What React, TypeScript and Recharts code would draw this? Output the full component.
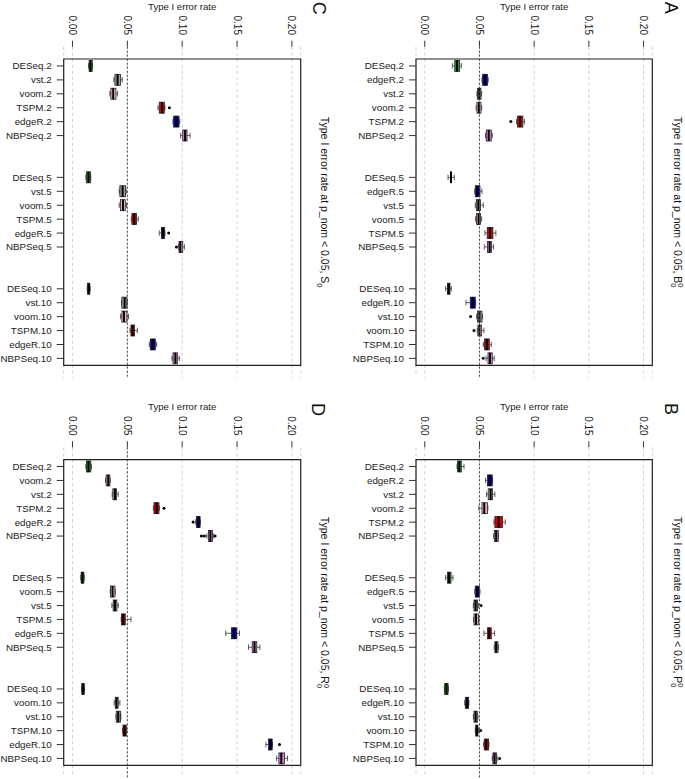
import React from 'react'
import {
  ComposedChart,
  Bar,
  XAxis,
  YAxis,
  CartesianGrid,
  ReferenceLine,
  ReferenceArea,
} from 'recharts'

const FONT = '"Liberation Sans", Arial, Helvetica, sans-serif'
const DOMAIN: [number, number] = [-0.008, 0.208]
const X_TICKS = [0, 0.05, 0.1, 0.15, 0.2]

// box stats per category: [min, q1, median, q3, max]
const A_LABELS = [
  'DESeq.2', 'edgeR.2', 'vst.2', 'voom.2', 'TSPM.2', 'NBPSeq.2',
  'DESeq.5', 'edgeR.5', 'vst.5', 'voom.5', 'TSPM.5', 'NBPSeq.5',
  'DESeq.10', 'edgeR.10', 'vst.10', 'voom.10', 'TSPM.10', 'NBPSeq.10',
]
const A_STATS = [
  [0.0252, 0.0274, 0.0295, 0.0319, 0.0334],
  [0.0523, 0.0529, 0.055, 0.0574, 0.058],
  [0.0477, 0.0483, 0.0498, 0.0514, 0.052],
  [0.047, 0.0477, 0.0495, 0.0514, 0.052],
  [0.0839, 0.0848, 0.0872, 0.0897, 0.0912],
  [0.0556, 0.0562, 0.0585, 0.0608, 0.0617],
  [0.0213, 0.0236, 0.024, 0.0245, 0.027],
  [0.0457, 0.0462, 0.048, 0.0505, 0.0523],
  [0.0462, 0.0471, 0.049, 0.051, 0.0535],
  [0.0465, 0.0474, 0.0492, 0.051, 0.052],
  [0.055, 0.0571, 0.0596, 0.0623, 0.065],
  [0.0544, 0.0574, 0.0593, 0.0611, 0.0629],
  [0.0191, 0.0207, 0.0219, 0.0231, 0.0243],
  [0.0377, 0.0416, 0.0438, 0.0462, 0.0465],
  [0.0474, 0.0483, 0.05, 0.0523, 0.0529],
  [0.048, 0.0486, 0.05, 0.052, 0.0541],
  [0.0535, 0.0547, 0.0568, 0.059, 0.0608],
  [0.056, 0.0578, 0.0596, 0.0617, 0.0635],
]
const A_OUT = [[], [], [], [], [0.0787], [], [], [], [], [], [], [], [], [], [0.0419], [0.045], [], [0.0535]]

const B_LABELS = A_LABELS
const B_STATS = [
  [0.0295, 0.0301, 0.0316, 0.0334, 0.0359],
  [0.0556, 0.0574, 0.0596, 0.0617, 0.062],
  [0.0565, 0.058, 0.0602, 0.062, 0.0641],
  [0.0495, 0.0523, 0.0544, 0.0574, 0.0577],
  [0.0632, 0.0641, 0.0675, 0.0711, 0.0736],
  [0.063, 0.0635, 0.0653, 0.0672, 0.0675],
  [0.0191, 0.0207, 0.0222, 0.024, 0.0258],
  [0.0457, 0.0462, 0.048, 0.0498, 0.0505],
  [0.0444, 0.045, 0.0465, 0.0483, 0.049],
  [0.0447, 0.045, 0.0468, 0.049, 0.0495],
  [0.0541, 0.0574, 0.059, 0.0608, 0.0638],
  [0.0635, 0.0641, 0.0653, 0.0669, 0.0675],
  [0.0179, 0.0182, 0.0198, 0.0213, 0.0216],
  [0.0365, 0.0371, 0.0386, 0.0401, 0.0404],
  [0.0444, 0.045, 0.0465, 0.048, 0.0486],
  [0.0462, 0.0465, 0.0477, 0.0486, 0.0492],
  [0.0538, 0.0544, 0.0562, 0.0584, 0.0587],
  [0.0617, 0.0623, 0.0638, 0.0657, 0.0662],
]
const B_OUT = [[], [], [], [], [], [], [], [], [0.0514], [], [], [], [], [], [], [0.0511], [], [0.0684]]

const C_LABELS = [
  'DESeq.2', 'vst.2', 'voom.2', 'TSPM.2', 'edgeR.2', 'NBPSeq.2',
  'DESeq.5', 'vst.5', 'voom.5', 'TSPM.5', 'edgeR.5', 'NBPSeq.5',
  'DESeq.10', 'vst.10', 'voom.10', 'TSPM.10', 'edgeR.10', 'NBPSeq.10',
]
const C_STATS = [
  [0.0146, 0.0152, 0.0164, 0.018, 0.0183],
  [0.0377, 0.0387, 0.0411, 0.0438, 0.0454],
  [0.0341, 0.035, 0.0371, 0.0396, 0.0411],
  [0.0779, 0.0791, 0.0816, 0.0837, 0.0843],
  [0.0916, 0.0922, 0.0947, 0.0971, 0.0977],
  [0.0986, 0.1005, 0.1026, 0.1044, 0.1072],
  [0.0122, 0.0128, 0.0146, 0.0164, 0.0167],
  [0.0426, 0.0432, 0.0457, 0.0484, 0.049],
  [0.0426, 0.0438, 0.046, 0.0481, 0.0493],
  [0.0536, 0.0542, 0.0563, 0.0584, 0.06],
  [0.0791, 0.081, 0.0825, 0.084, 0.0843],
  [0.0965, 0.0971, 0.0983, 0.1005, 0.102],
  [0.0134, 0.0137, 0.0149, 0.0158, 0.0161],
  [0.0447, 0.045, 0.0475, 0.0496, 0.0499],
  [0.0438, 0.045, 0.0469, 0.0496, 0.0511],
  [0.0524, 0.0533, 0.0548, 0.0566, 0.0591],
  [0.07, 0.0709, 0.0731, 0.0755, 0.0767],
  [0.0907, 0.0916, 0.0938, 0.0956, 0.0974],
]
const C_OUT = [[], [], [], [0.0883], [], [], [], [], [], [], [0.0877], [0.0947], [], [], [], [], [], []]

const D_LABELS = [
  'DESeq.2', 'voom.2', 'vst.2', 'TSPM.2', 'edgeR.2', 'NBPSeq.2',
  'DESeq.5', 'voom.5', 'vst.5', 'TSPM.5', 'edgeR.5', 'NBPSeq.5',
  'DESeq.10', 'voom.10', 'vst.10', 'TSPM.10', 'edgeR.10', 'NBPSeq.10',
]
const D_STATS = [
  [0.0122, 0.0128, 0.0146, 0.0167, 0.0173],
  [0.0301, 0.0307, 0.0326, 0.0341, 0.0344],
  [0.0362, 0.0368, 0.0387, 0.0402, 0.0417],
  [0.0737, 0.0743, 0.0767, 0.0788, 0.0792],
  [0.112, 0.1129, 0.1148, 0.1163, 0.1166],
  [0.1224, 0.1239, 0.1257, 0.1275, 0.1287],
  [0.0076, 0.0079, 0.0091, 0.0104, 0.0107],
  [0.0344, 0.0347, 0.0365, 0.0387, 0.039],
  [0.0359, 0.0371, 0.0387, 0.0405, 0.0417],
  [0.0444, 0.0447, 0.0463, 0.0481, 0.0533],
  [0.1397, 0.1449, 0.1473, 0.1498, 0.1522],
  [0.1604, 0.1638, 0.1659, 0.168, 0.1708],
  [0.0082, 0.0085, 0.0097, 0.0107, 0.011],
  [0.038, 0.039, 0.0402, 0.0417, 0.0432],
  [0.0396, 0.0399, 0.0417, 0.0438, 0.0441],
  [0.0456, 0.046, 0.0475, 0.049, 0.0493],
  [0.1763, 0.1787, 0.1805, 0.182, 0.1823],
  [0.186, 0.1881, 0.1903, 0.1933, 0.196],
]
const D_OUT = [[], [], [], [0.0834], [0.1099], [0.1175, 0.1202, 0.13], [], [], [], [], [], [], [], [], [], [], [0.1887], []]

const METHOD_COLORS: Record<string, string> = {
  DESeq: '#1fa01f',
  edgeR: '#0000b4',
  vst: '#a3a3a3',
  voom: '#f4b6c2',
  TSPM: '#d40000',
  NBPSeq: '#d683d6',
}

// two empty slots between the groups of six, like boxplot(at = ...)
function buildRows(labels: string[], stats: number[][], outliers: number[][]) {
  const rows: any[] = []
  labels.forEach((label, i) => {
    if (i > 0 && i % 6 === 0) {
      rows.push({ key: `gap${i}a`, range: null })
      rows.push({ key: `gap${i}b`, range: null })
    }
    const [min, q1, med, q3, max] = stats[i]
    rows.push({
      key: label,
      range: [min, max],
      q1,
      med,
      q3,
      out: outliers[i] || [],
      color: METHOD_COLORS[label.split('.')[0]],
    })
  })
  return rows
}

function BoxShape(props: any) {
  const { x, y, width, height, payload } = props
  if (!payload || !payload.range) return <g />
  const [lo, hi] = payload.range
  const px = (v: number) => x + (width * (v - lo)) / (hi - lo)
  const cy = y + height / 2
  const half = height / 4
  const xq1 = px(payload.q1)
  const xq3 = px(payload.q3)
  const xm = px(payload.med)
  return (
    <g>
      <line x1={px(lo)} x2={xq1} y1={cy} y2={cy} stroke="#333" strokeWidth={0.8} />
      <line x1={xq3} x2={px(hi)} y1={cy} y2={cy} stroke="#333" strokeWidth={0.8} />
      <line x1={px(lo)} x2={px(lo)} y1={cy - half} y2={cy + half} stroke="#333" strokeWidth={0.8} />
      <line x1={px(hi)} x2={px(hi)} y1={cy - half} y2={cy + half} stroke="#333" strokeWidth={0.8} />
      <rect x={xq1} y={y} width={xq3 - xq1} height={height} fill={payload.color} stroke="#222" strokeWidth={0.8} />
      <line x1={xm} x2={xm} y1={y} y2={y + height} stroke="#000" strokeWidth={2} />
      {payload.out.map((o: number, i: number) => (
        <circle key={i} cx={px(o)} cy={cy} r={1.5} fill="#000" />
      ))}
    </g>
  )
}

function ValueTick({ x, y, payload }: any) {
  return (
    <text
      x={x}
      y={y}
      transform={`rotate(90, ${x}, ${y})`}
      textAnchor="end"
      dy="0.35em"
      fontSize={10}
      fill="#222"
      fontFamily={FONT}
    >
      {Number(payload.value).toFixed(2)}
    </text>
  )
}

function CategoryTick({ x, y, payload }: any) {
  const label = String(payload.value)
  if (label.startsWith('gap')) return <g />
  return (
    <g>
      <line x1={x + 5} x2={x + 12} y1={y} y2={y} stroke="#333" />
      <text x={x} y={y} dy="0.35em" textAnchor="end" fontSize={9.8} fill="#222" fontFamily={FONT}>
        {label}
      </text>
    </g>
  )
}

const PANELS = [
  {
    letter: 'A', sym: 'B', sup: true, labels: A_LABELS, stats: A_STATS, out: A_OUT,
    left: 342, top: 0, width: 343, height: 390, yw: 74, xh: 46.7,
    margin: { top: 0, right: 32.7, bottom: 12.3, left: 0 },
    letterPos: [665, 1.7], titlePos: [674.3, 116.7],
  },
  {
    letter: 'B', sym: 'P', sup: true, labels: B_LABELS, stats: B_STATS, out: B_OUT,
    left: 342, top: 400, width: 343, height: 379, yw: 74, xh: 47.3,
    margin: { top: 0, right: 32.7, bottom: 1.3, left: 0 },
    letterPos: [665, 403], titlePos: [674.3, 516.7],
  },
  {
    letter: 'C', sym: 'S', sup: false, labels: C_LABELS, stats: C_STATS, out: C_OUT,
    left: 0, top: 0, width: 342, height: 390, yw: 63.7, xh: 46.7,
    margin: { top: 0, right: 41.3, bottom: 12.3, left: 0 },
    letterPos: [313, 1.7], titlePos: [320.5, 116.7],
  },
  {
    letter: 'D', sym: 'R', sup: true, labels: D_LABELS, stats: D_STATS, out: D_OUT,
    left: 0, top: 400, width: 342, height: 379, yw: 63.7, xh: 47.3,
    margin: { top: 0, right: 41.3, bottom: 1.3, left: 0 },
    letterPos: [312, 403], titlePos: [320.5, 516.7],
  },
]

function Panel({ p }: any) {
  const rows = buildRows(p.labels, p.stats, p.out)
  return (
    <div style={{ position: 'absolute', left: p.left, top: p.top }}>
      <ComposedChart
        layout="vertical"
        width={p.width}
        height={p.height}
        data={rows}
        margin={p.margin}
        barCategoryGap="10%"
      >
        <CartesianGrid horizontal={false} stroke="#cfcfcf" strokeDasharray="3 3" />
        <XAxis
          type="number"
          orientation="top"
          domain={DOMAIN}
          ticks={X_TICKS}
          allowDataOverflow
          interval={0}
          height={p.xh}
          tickSize={6}
          tickMargin={5.7}
          axisLine={false}
          tickLine={{ stroke: '#333' }}
          tick={<ValueTick />}
          label={{ value: 'Type I error rate', position: 'insideTop', offset: 3, fontSize: 9.6, fill: '#222', fontFamily: FONT }}
        />
        <YAxis
          type="category"
          dataKey="key"
          width={p.yw}
          interval={0}
          tickSize={7}
          tickMargin={5}
          tickLine={false}
          axisLine={false}
          tick={<CategoryTick />}
          padding={{ top: 12.3, bottom: 12.3 }}
        />
        <ReferenceLine x={0.05} stroke="#444" strokeDasharray="2 2" />
        <Bar dataKey="range" shape={(s: any) => <BoxShape {...s} />} isAnimationActive={false} />
        <ReferenceArea x1={DOMAIN[0]} x2={DOMAIN[1]} fill="none" stroke="#222" strokeWidth={1.2} ifOverflow="visible" />
      </ComposedChart>
    </div>
  )
}

export default function App() {
  return (
    <div style={{ position: 'absolute', left: 0, top: 0, width: 685, height: 779, background: '#fff', fontFamily: FONT }}>
      {PANELS.map((p) => (
        <Panel key={p.letter} p={p} />
      ))}
      <svg width={685} height={779} style={{ position: 'absolute', left: 0, top: 0, pointerEvents: 'none' }}>
        {PANELS.map((p) => (
          <g key={p.letter} fontFamily={FONT} fill="#111">
            <text transform={`translate(${p.letterPos[0]}, ${p.letterPos[1]}) rotate(90)`} fontSize={18}>
              {p.letter}
            </text>
            <text transform={`translate(${p.titlePos[0]}, ${p.titlePos[1]}) rotate(90)`} fontSize={10.5}>
              {'Type I error rate at p_nom < 0.05, ' + p.sym}
              {p.sup ? (
                <>
                  <tspan dy={-3.8} fontSize={7.5}>0</tspan>
                  <tspan dx={-4.2} dy={7} fontSize={7.5}>0</tspan>
                </>
              ) : (
                <tspan dy={3.2} fontSize={7.5}>0</tspan>
              )}
            </text>
          </g>
        ))}
      </svg>
    </div>
  )
}
